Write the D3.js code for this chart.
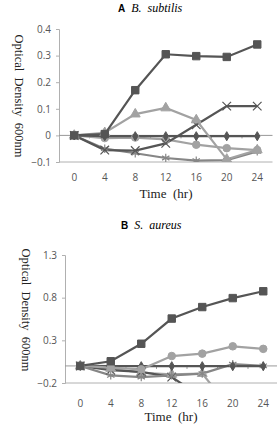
<!DOCTYPE html>
<html>
<head>
<meta charset="utf-8">
<script src="https://cdn.jsdelivr.net/npm/d3@7"></script>
<style>
body{margin:0;background:#fff;}
svg{display:block;}
</style>
</head>
<body>
<div class="canvas"></div>
<script>
// time points (hours) shared by both panels
var hours = ["0","4","8","12","16","20","24"];

// panel A, B. subtilis
var ticksA = [0.4,0.3,0.2,0.1,0,-0.1];
var aSquare   = [0, 0.005, 0.17, 0.305, 0.298, 0.295, 0.342];
var aTriangle = [0, 0.01, 0.08, 0.103, 0.058, -0.09, -0.055];
var aDiamond  = [0, -0.003, -0.003, -0.003, -0.003, -0.003, -0.003];
var aCircle   = [0, -0.01, -0.008, -0.015, -0.035, -0.048, -0.055];
var aCross    = [0, -0.055, -0.057, -0.03, 0.04, 0.11, 0.11];
var aStar     = [0, -0.05, -0.067, -0.085, -0.095, -0.093, -0.06];

// panel B, S. aureus
var ticksB = [1.3,0.8,0.3,-0.2];
var bSquare   = [0, 0.055, 0.26, 0.555, 0.69, 0.795, 0.875];
var bCircle   = [0, -0.02, -0.04, 0.116, 0.144, 0.23, 0.2];
var bDiamond  = [0, -0.003, -0.003, -0.003, -0.003, -0.003, -0.003];
var bStar     = [0, -0.11, -0.13, -0.11, -0.09, 0.02, 0];
var bCross    = [0, -0.05, -0.07, -0.13, -0.37, -0.6, -0.6];
var bTriangle = [0, -0.03, -0.08, -0.1, -0.09, -0.53, -0.6];

var dark = '#555', mid = '#868686', light = '#a2a2a2';

var svg = d3.select('.canvas').append('svg')
    .attr('width',277).attr('height',425);

var panels = [
    {id:'a', letter:'A', name:'B.  subtilis', top:29, bottom:162, left:59, band:30.5,
     min:-0.1, max:0.4, ticks:ticksA, fmt:function(d){ return d===0 ? '0' : d3.format('.1f')(d); },
     titleY:12, titleX:118, labelY:181, xTitleY:198, xTitleX:166, yTitleX:15, yMid:96,
     series:[
        {v:aStar, m:'star', c:mid},
        {v:aCircle, m:'circle', c:light},
        {v:aCross, m:'cross', c:dark},
        {v:aDiamond, m:'diamond', c:dark},
        {v:aTriangle, m:'triangle', c:light},
        {v:aSquare, m:'square', c:dark}
     ]},
    {id:'b', letter:'B', name:'S.  aureus', top:255, bottom:383, left:65, band:30.5,
     min:-0.2, max:1.3, ticks:ticksB, fmt:d3.format('.1f'),
     titleY:229, titleX:121, labelY:407, xTitleY:421, xTitleX:171, yTitleX:22, yMid:310,
     series:[
        {v:bTriangle, m:'triangle', c:light},
        {v:bCross, m:'cross', c:dark},
        {v:bStar, m:'star', c:mid},
        {v:bDiamond, m:'diamond', c:dark},
        {v:bCircle, m:'circle', c:light},
        {v:bSquare, m:'square', c:dark}
     ]}
];

panels.forEach(function(p){
    var right = p.left + p.band*hours.length;
    var x = d3.scalePoint().domain(hours).range([p.left+p.band/2, right-p.band/2]);
    var y = d3.scaleLinear().domain([p.min,p.max]).range([p.bottom,p.top]);
    var g = svg.append('g');

    // title: bold letter + italic species
    var t = g.append('text').attr('x',p.titleX).attr('y',p.titleY)
        .attr('xml:space','preserve').style('font-size','10px');
    t.append('tspan').text(p.letter)
        .style('font-family','Liberation Sans, Arial, sans-serif').style('font-weight','bold');
    t.append('tspan').attr('dx',6).text(p.name)
        .style('font-family','Liberation Serif, serif').style('font-style','italic').style('font-size','12px');

    // y axis
    var yAxis = d3.axisLeft(y).tickValues(p.ticks).tickSize(3).tickFormat(p.fmt);
    var ya = g.append('g').attr('transform','translate('+p.left+',0)').call(yAxis);
    ya.select('.domain').attr('stroke','#b0b0b0');
    ya.selectAll('.tick line').attr('stroke','#b0b0b0');
    ya.selectAll('.tick text').attr('x',-8).attr('fill','#555')
        .style('font-family','Open Sans, sans-serif').style('font-size','10px');

    // bottom border line and category axis at zero
    g.append('line').attr('x1',p.left).attr('x2',right).attr('y1',y(p.min)).attr('y2',y(p.min))
        .attr('stroke','#b0b0b0');
    g.append('line').attr('x1',p.left).attr('x2',right).attr('y1',y(0)).attr('y2',y(0))
        .attr('stroke','#999');
    g.selectAll('.xtick').data(hours.slice(1)).enter().append('line')
        .attr('x1',function(d){ return x(d)-p.band/2; }).attr('x2',function(d){ return x(d)-p.band/2; })
        .attr('y1',y(0)).attr('y2',y(0)+3).attr('stroke','#999');

    // category labels
    g.selectAll('.xlab').data(hours).enter().append('text')
        .attr('x',function(d){ return x(d); }).attr('y',p.labelY)
        .attr('text-anchor','middle').attr('fill','#555')
        .style('font-family','Open Sans, sans-serif').style('font-size','10px')
        .text(function(d){ return d; });

    g.append('text').attr('x',p.xTitleX).attr('y',p.xTitleY).attr('text-anchor','middle')
        .style('font-family','Liberation Serif, serif').style('font-size','13px').attr('fill','#222')
        .attr('xml:space','preserve').text('Time  (hr)');

    g.append('text').attr('transform','translate('+p.yTitleX+','+p.yMid+') rotate(90)')
        .attr('text-anchor','middle')
        .style('font-family','Liberation Serif, serif').style('font-size','12.5px').attr('fill','#222')
        .attr('xml:space','preserve').text('Optical  Density  600nm');

    // clip to plot area
    svg.append('clipPath').attr('id','clip-'+p.id).append('rect')
        .attr('x',p.left).attr('y',p.top-6).attr('width',right-p.left+10).attr('height',p.bottom-p.top+6);
    var plot = g.append('g').attr('clip-path','url(#clip-'+p.id+')');

    var line = d3.line().x(function(d,i){ return x(hours[i]); }).y(function(d){ return y(d); });

    p.series.forEach(function(s){
        plot.append('path').datum(s.v).attr('d',line)
            .attr('fill','none').attr('stroke',s.c).attr('stroke-width',2.2);
    });

    var shapes = {square:d3.symbolSquare, diamond:d3.symbolDiamond, triangle:d3.symbolTriangle,
                  circle:d3.symbolCircle, cross:d3.symbolTimes, star:d3.symbolAsterisk};
    var sizes = {square:55, diamond:24, triangle:42, circle:45, cross:50, star:50};

    p.series.forEach(function(s){
        plot.selectAll(null).data(s.v).enter().append('path')
            .attr('transform',function(d,i){ return 'translate('+x(hours[i])+','+y(d)+')'; })
            .attr('d',d3.symbol().type(shapes[s.m]).size(sizes[s.m]))
            .attr('fill',(s.m==='cross'||s.m==='star') ? 'none' : s.c)
            .attr('stroke',s.c)
            .attr('stroke-width',(s.m==='cross'||s.m==='star') ? 1.2 : 1);
    });
});
</script>
</body>
</html>
